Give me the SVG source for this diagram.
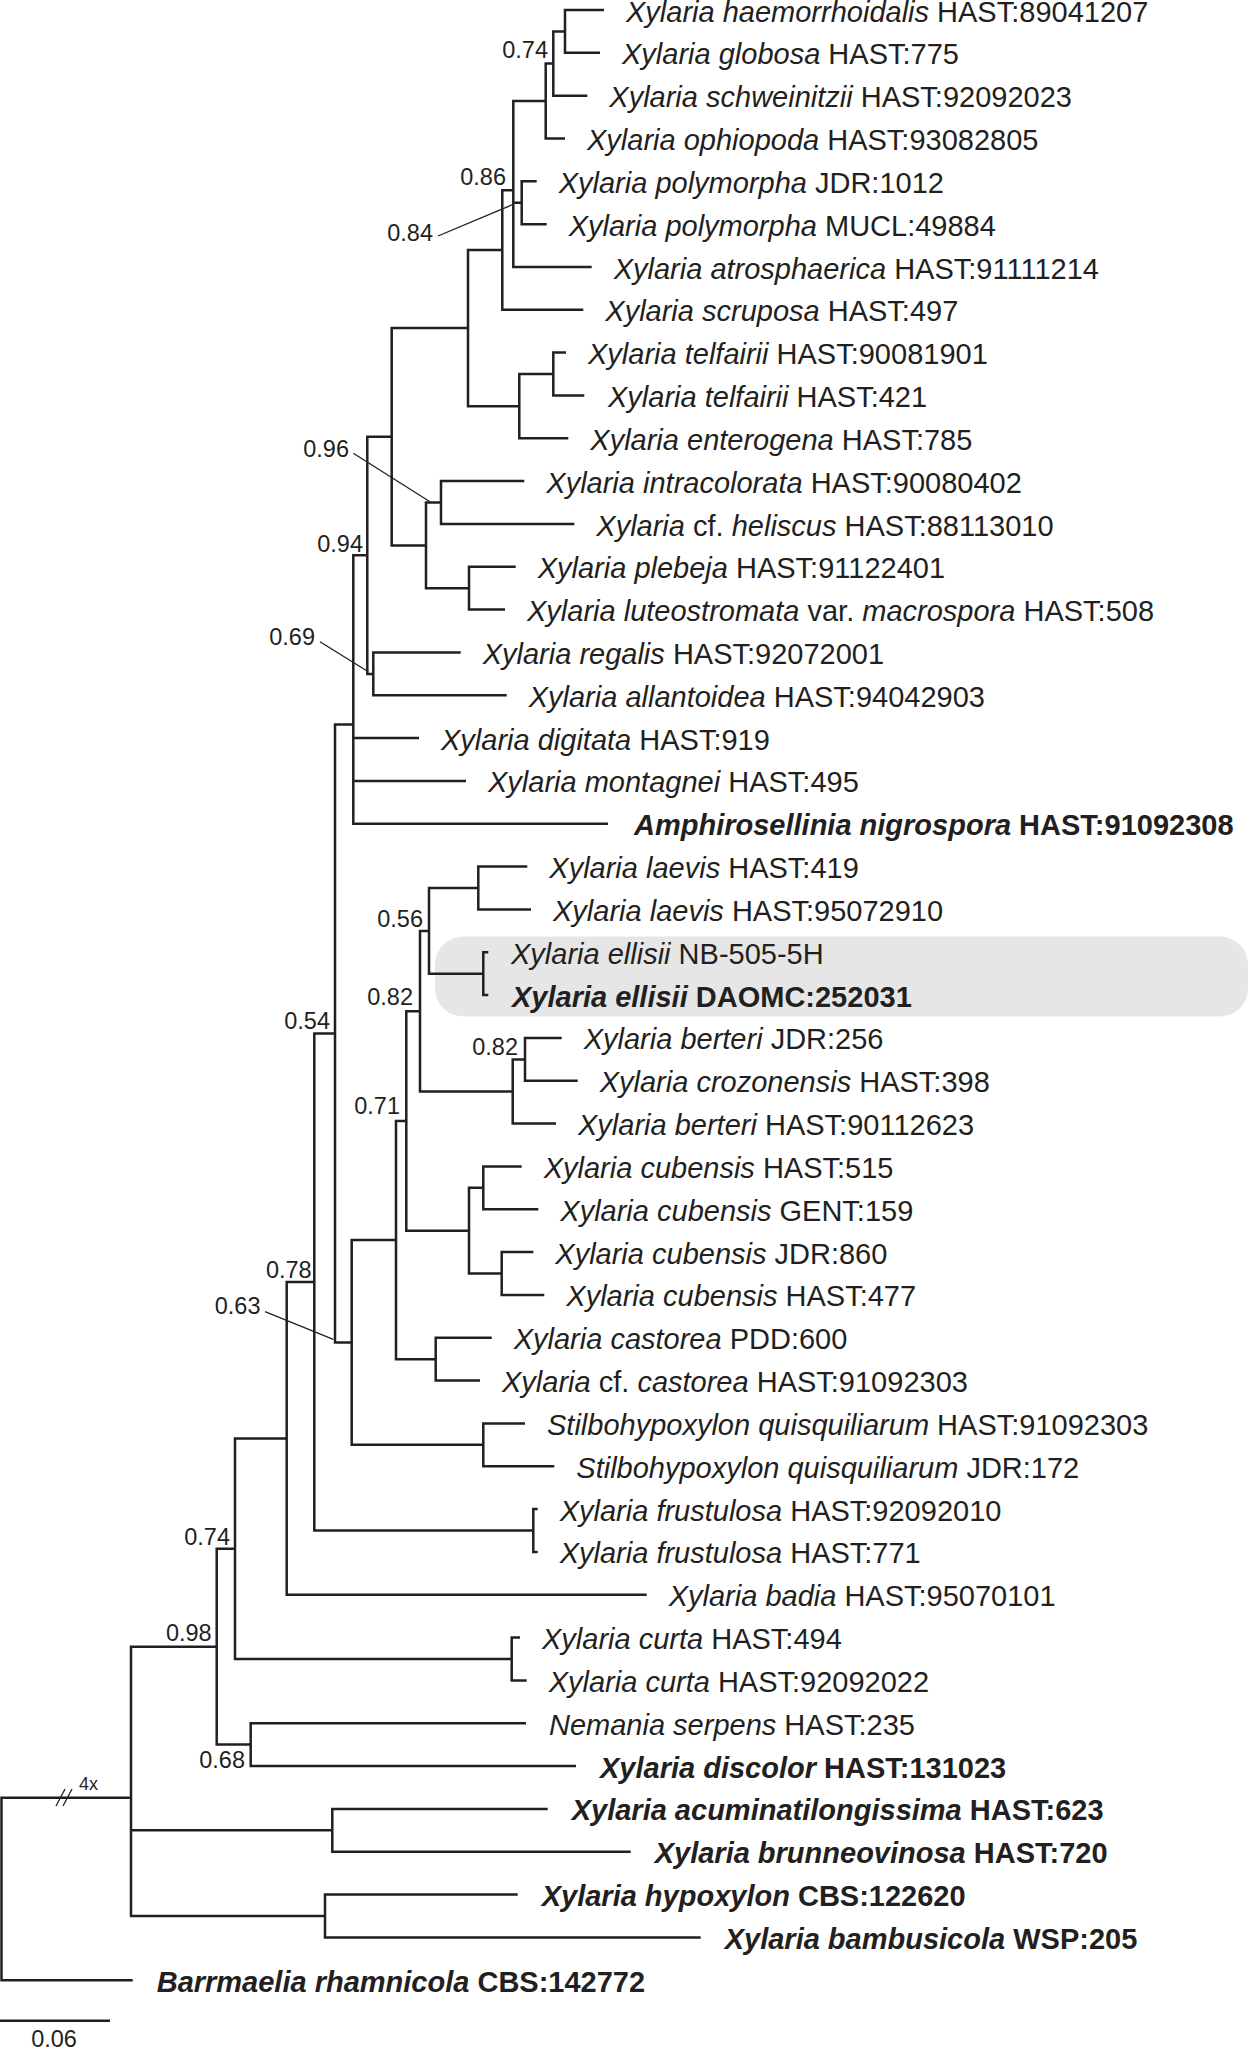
<svg xmlns="http://www.w3.org/2000/svg" width="1250" height="2050" viewBox="0 0 1250 2050">
<style>
.br{fill:none;stroke:#231f20;stroke-width:2.5;stroke-linejoin:miter;stroke-linecap:butt}
.ld{fill:none;stroke:#231f20;stroke-width:1.3}
.tx{font-family:"Liberation Sans",Arial,sans-serif;font-size:29px;fill:#231f20}
.b{font-weight:bold}
.i{font-style:italic}
.sp{font-family:"Liberation Sans",Arial,sans-serif;font-size:23.5px;fill:#231f20;text-anchor:end}
</style>
<rect id="highlight" x="435" y="936.5" width="813" height="80" rx="28" ry="28" fill="#e6e6e6"/>
<g id="branches">
<path class="br" d="M604 10 H565 V52.8 H600"/>
<path class="br" d="M565 31.4 H553.3 V95.7 H587.3"/>
<path class="br" d="M553.3 63.5 H545.7 V138.5 H565"/>
<path class="br" d="M536.7 181.3 H521.7 V224.2 H546.7"/>
<path class="br" d="M545.7 101 H513.3 V267 H591.7 M513.3 202.7 H521.7"/>
<path class="br" d="M513.3 190.2 H502.3 V309.8 H583.3"/>
<path class="br" d="M566 352.6 H553.3 V395.5 H584.3"/>
<path class="br" d="M553.3 374 H519.3 V438.3 H568.3"/>
<path class="br" d="M502.3 250 H468 V406.2 H519.3"/>
<path class="br" d="M524.3 481.1 H441 V524 H574.3"/>
<path class="br" d="M515.7 566.8 H469 V609.6 H505"/>
<path class="br" d="M441 502.5 H426 V588.2 H469"/>
<path class="br" d="M468 328.1 H391.7 V545.4 H426"/>
<path class="br" d="M460.7 652.5 H373.3 V695.3 H506.7"/>
<path class="br" d="M391.7 436.7 H367.3 V673.9 H373.3"/>
<path class="br" d="M367.3 555.3 H353.3 V823.8 H608 M353.3 738.1 H419 M353.3 780.9 H466"/>
<path class="br" d="M527.3 866.6 H478.3 V909.4 H531"/>
<path class="br" d="M488.3 952.3 H483.3 V995.1 H488.3"/>
<path class="br" d="M478.3 888 H429 V973.7 H483.3"/>
<path class="br" d="M561.7 1037.9 H525 V1080.8 H577.7"/>
<path class="br" d="M525 1059.4 H512.7 V1123.6 H556"/>
<path class="br" d="M429 930.9 H420 V1091.5 H512.7"/>
<path class="br" d="M521.7 1166.4 H483.3 V1209.2 H538.3"/>
<path class="br" d="M533.3 1252.1 H501.7 V1294.9 H544.3"/>
<path class="br" d="M483.3 1187.8 H469 V1273.5 H501.7"/>
<path class="br" d="M420 1011.2 H406.3 V1230.7 H469"/>
<path class="br" d="M491.7 1337.7 H435.7 V1380.6 H480"/>
<path class="br" d="M406.3 1121 H396 V1359.2 H435.7"/>
<path class="br" d="M525 1423.4 H483.3 V1466.2 H554.3"/>
<path class="br" d="M396 1240.1 H351.7 V1444.8 H483.3"/>
<path class="br" d="M353.3 724.5 H335 V1342.5 H351.7"/>
<path class="br" d="M537.7 1509.1 H533.3 V1551.9 H537.7"/>
<path class="br" d="M335 1033.5 H314.3 V1530.5 H533.3"/>
<path class="br" d="M314.3 1282 H286.7 V1594.7 H646.7"/>
<path class="br" d="M520 1637.5 H511.7 V1680.4 H526.7"/>
<path class="br" d="M286.7 1438.4 H235 V1659 H511.7"/>
<path class="br" d="M526 1723.2 H250.7 V1766 H576"/>
<path class="br" d="M235 1548.7 H216.7 V1744.6 H250.7"/>
<path class="br" d="M547.7 1808.9 H332.3 V1851.7 H630.7"/>
<path class="br" d="M517.7 1894.5 H325 V1937.4 H700.7"/>
<path class="br" d="M216.7 1646.7 H131 V1916 H325 M131 1830.3 H332.3"/>
<path class="br" d="M131 1797.7 H1.5 V1980.2 H132.7"/>
<path class="ld" d="M56 1806 L65 1789 M63 1806 L72 1789"/>
<path class="ld" d="M438 236 L514 204"/>
<path class="ld" d="M353.3 453.3 L430 501.7"/>
<path class="ld" d="M320 641.7 L368.3 671.7"/>
<path class="ld" d="M265 1311.7 L333.3 1339.3"/>
</g>
<g id="support">
<text class="sp" x="548" y="58">0.74</text>
<text class="sp" x="506" y="185">0.86</text>
<text class="sp" x="433" y="241">0.84</text>
<text class="sp" x="349" y="456.5">0.96</text>
<text class="sp" x="363" y="551.5">0.94</text>
<text class="sp" x="315" y="645">0.69</text>
<text class="sp" x="423" y="926.5">0.56</text>
<text class="sp" x="413" y="1005">0.82</text>
<text class="sp" x="330" y="1028.5">0.54</text>
<text class="sp" x="518" y="1055">0.82</text>
<text class="sp" x="400" y="1114">0.71</text>
<text class="sp" x="311.7" y="1278">0.78</text>
<text class="sp" x="260.5" y="1313.5">0.63</text>
<text class="sp" x="230" y="1545">0.74</text>
<text class="sp" x="211.7" y="1641">0.98</text>
<text class="sp" x="245" y="1768">0.68</text>
<text x="79" y="1790" font-family="Liberation Sans, Arial, sans-serif" font-size="18" fill="#231f20">4x</text>
</g>
<g id="taxa">
<g id="t0"><text class="tx" x="626" y="21.8"><tspan class="i">Xylaria haemorrhoidalis</tspan> HAST:89041207</text></g>
<g id="t1"><text class="tx" x="622" y="64.3"><tspan class="i">Xylaria globosa</tspan> HAST:775</text></g>
<g id="t2"><text class="tx" x="609.3" y="107.2"><tspan class="i">Xylaria schweinitzii</tspan> HAST:92092023</text></g>
<g id="t3"><text class="tx" x="587" y="150"><tspan class="i">Xylaria ophiopoda</tspan> HAST:93082805</text></g>
<g id="t4"><text class="tx" x="558.7" y="192.8"><tspan class="i">Xylaria polymorpha</tspan> JDR:1012</text></g>
<g id="t5"><text class="tx" x="568.7" y="235.7"><tspan class="i">Xylaria polymorpha</tspan> MUCL:49884</text></g>
<g id="t6"><text class="tx" x="613.7" y="278.5"><tspan class="i">Xylaria atrosphaerica</tspan> HAST:91111214</text></g>
<g id="t7"><text class="tx" x="605.3" y="321.3"><tspan class="i">Xylaria scruposa</tspan> HAST:497</text></g>
<g id="t8"><text class="tx" x="588" y="364.1"><tspan class="i">Xylaria telfairii</tspan> HAST:90081901</text></g>
<g id="t9"><text class="tx" x="608" y="407"><tspan class="i">Xylaria telfairii</tspan> HAST:421</text></g>
<g id="t10"><text class="tx" x="590.3" y="449.8"><tspan class="i">Xylaria enterogena</tspan> HAST:785</text></g>
<g id="t11"><text class="tx" x="546.3" y="492.6"><tspan class="i">Xylaria intracolorata</tspan> HAST:90080402</text></g>
<g id="t12"><text class="tx" x="596.3" y="535.5"><tspan class="i">Xylaria</tspan> cf. <tspan class="i">heliscus</tspan> HAST:88113010</text></g>
<g id="t13"><text class="tx" x="537.7" y="578.3"><tspan class="i">Xylaria plebeja</tspan> HAST:91122401</text></g>
<g id="t14"><text class="tx" x="527" y="621.1"><tspan class="i">Xylaria luteostromata</tspan> var. <tspan class="i">macrospora</tspan> HAST:508</text></g>
<g id="t15"><text class="tx" x="482.7" y="664"><tspan class="i">Xylaria regalis</tspan> HAST:92072001</text></g>
<g id="t16"><text class="tx" x="528.7" y="706.8"><tspan class="i">Xylaria allantoidea</tspan> HAST:94042903</text></g>
<g id="t17"><text class="tx" x="441" y="749.6"><tspan class="i">Xylaria digitata</tspan> HAST:919</text></g>
<g id="t18"><text class="tx" x="488" y="792.4"><tspan class="i">Xylaria montagnei</tspan> HAST:495</text></g>
<g id="t19"><text class="tx b" x="634" y="835.3"><tspan class="i">Amphirosellinia nigrospora</tspan> HAST:91092308</text></g>
<g id="t20"><text class="tx" x="549.3" y="878.1"><tspan class="i">Xylaria laevis</tspan> HAST:419</text></g>
<g id="t21"><text class="tx" x="553" y="920.9"><tspan class="i">Xylaria laevis</tspan> HAST:95072910</text></g>
<g id="t22"><text class="tx" x="511" y="963.8"><tspan class="i">Xylaria ellisii</tspan> NB-505-5H</text></g>
<g id="t23"><text class="tx b" x="512" y="1006.6"><tspan class="i">Xylaria ellisii</tspan> DAOMC:252031</text></g>
<g id="t24"><text class="tx" x="583.7" y="1049.4"><tspan class="i">Xylaria berteri</tspan> JDR:256</text></g>
<g id="t25"><text class="tx" x="599.7" y="1092.3"><tspan class="i">Xylaria crozonensis</tspan> HAST:398</text></g>
<g id="t26"><text class="tx" x="578" y="1135.1"><tspan class="i">Xylaria berteri</tspan> HAST:90112623</text></g>
<g id="t27"><text class="tx" x="543.7" y="1177.9"><tspan class="i">Xylaria cubensis</tspan> HAST:515</text></g>
<g id="t28"><text class="tx" x="560.3" y="1220.7"><tspan class="i">Xylaria cubensis</tspan> GENT:159</text></g>
<g id="t29"><text class="tx" x="555.3" y="1263.6"><tspan class="i">Xylaria cubensis</tspan> JDR:860</text></g>
<g id="t30"><text class="tx" x="566.3" y="1306.4"><tspan class="i">Xylaria cubensis</tspan> HAST:477</text></g>
<g id="t31"><text class="tx" x="513.7" y="1349.2"><tspan class="i">Xylaria castorea</tspan> PDD:600</text></g>
<g id="t32"><text class="tx" x="502" y="1392.1"><tspan class="i">Xylaria</tspan> cf. <tspan class="i">castorea</tspan> HAST:91092303</text></g>
<g id="t33"><text class="tx" x="547" y="1434.9"><tspan class="i">Stilbohypoxylon quisquiliarum</tspan> HAST:91092303</text></g>
<g id="t34"><text class="tx" x="576.3" y="1477.7"><tspan class="i">Stilbohypoxylon quisquiliarum</tspan> JDR:172</text></g>
<g id="t35"><text class="tx" x="559.7" y="1520.6"><tspan class="i">Xylaria frustulosa</tspan> HAST:92092010</text></g>
<g id="t36"><text class="tx" x="559.7" y="1563.4"><tspan class="i">Xylaria frustulosa</tspan> HAST:771</text></g>
<g id="t37"><text class="tx" x="668.7" y="1606.2"><tspan class="i">Xylaria badia</tspan> HAST:95070101</text></g>
<g id="t38"><text class="tx" x="542" y="1649"><tspan class="i">Xylaria curta</tspan> HAST:494</text></g>
<g id="t39"><text class="tx" x="548.7" y="1691.9"><tspan class="i">Xylaria curta</tspan> HAST:92092022</text></g>
<g id="t40"><text class="tx" x="549" y="1734.7"><tspan class="i">Nemania serpens</tspan> HAST:235</text></g>
<g id="t41"><text class="tx b" x="600" y="1777.5"><tspan class="i">Xylaria discolor</tspan> HAST:131023</text></g>
<g id="t42"><text class="tx b" x="571.7" y="1820.4"><tspan class="i">Xylaria acuminatilongissima</tspan> HAST:623</text></g>
<g id="t43"><text class="tx b" x="654.7" y="1863.2"><tspan class="i">Xylaria brunneovinosa</tspan> HAST:720</text></g>
<g id="t44"><text class="tx b" x="541.7" y="1906"><tspan class="i">Xylaria hypoxylon</tspan> CBS:122620</text></g>
<g id="t45"><text class="tx b" x="724.7" y="1948.9"><tspan class="i">Xylaria bambusicola</tspan> WSP:205</text></g>
<g id="t46"><text class="tx b" x="156.7" y="1991.7"><tspan class="i">Barrmaelia rhamnicola</tspan> CBS:142772</text></g>
</g>
<g id="scale">
<path class="br" d="M0 2020.7 H110"/>
<text x="54" y="2047" font-family="Liberation Sans, Arial, sans-serif" font-size="23.5" fill="#231f20" text-anchor="middle">0.06</text>
</g>
</svg>
